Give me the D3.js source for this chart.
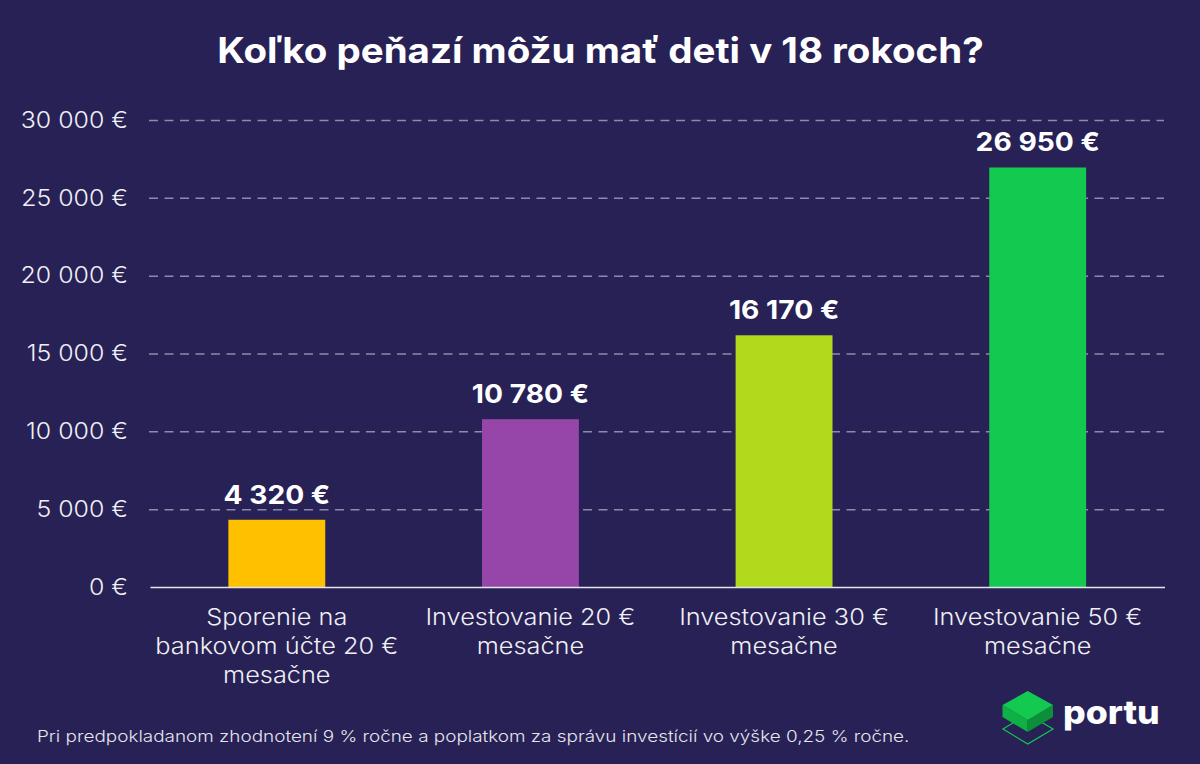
<!DOCTYPE html>
<html>
<head>
<meta charset="utf-8">
<script src="https://cdn.jsdelivr.net/npm/d3@7"></script>
<style>
html, body { margin: 0; padding: 0; background: #272156; }
svg { display: block; }
text { font-family: Inter, "Open Sans", sans-serif; }
</style>
</head>
<body>
<svg id="chart" width="1200" height="764"></svg>
<script>
var categories = [
	['Sporenie na', 'bankovom účte 20 €', 'mesačne'],
	['Investovanie 20 €', 'mesačne'],
	['Investovanie 30 €', 'mesačne'],
	['Investovanie 50 €', 'mesačne']
];
var values = [4320, 10780, 16170, 26950];
var valueLabels = ['4 320 €', '10 780 €', '16 170 €', '26 950 €'];
var barColors = ['#ffc000', '#9645a8', '#b2d91c', '#13c94f'];
var yTicks = [0, 5000, 10000, 15000, 20000, 25000, 30000];
var yTickLabels = ['0 €', '5 000 €', '10 000 €', '15 000 €', '20 000 €', '25 000 €', '30 000 €'];
var title = 'Koľko peňazí môžu mať deti v 18 rokoch?';
var footnote = 'Pri predpokladanom zhodnotení 9 % ročne a poplatkom za správu investícií vo výške 0,25 % ročne.';

var white = '#ffffff';
var svg = d3.select('#chart');

var x = d3.scaleBand().domain(d3.range(categories.length)).range([150, 1164.5]).paddingInner(0.618).paddingOuter(0.309);
var y = d3.scaleLinear().domain([0, 30000]).range([587, 120]);

// The reference font is wider than any installed one, so stretch the glyphs a bit
function widen(selection, k) {
	selection.each(function () {
		var len = this.getComputedTextLength();
		d3.select(this).attr('textLength', len * k).attr('lengthAdjust', 'spacingAndGlyphs');
	});
}

// Title
svg.append('text')
	.attr('x', 600.5).attr('y', 63)
	.attr('text-anchor', 'middle')
	.attr('font-size', 35).attr('font-weight', 700)
	.attr('fill', white)
	.text(title)
	.call(widen, 1.1);

// Dashed grid lines and y labels
var yAxis = d3.axisLeft(y)
	.tickValues(yTicks)
	.tickSize(-1015)
	.tickPadding(21)
	.tickFormat(function (d, i) { return yTickLabels[i]; });
var yGroup = svg.append('g').attr('transform', 'translate(149,0)').call(yAxis);
yGroup.select('.domain').remove();
yGroup.selectAll('.tick line')
	.attr('stroke', '#8f8aa8').attr('stroke-width', 1.5).attr('stroke-dasharray', '9 6.5');
yGroup.selectAll('.tick').filter(function (d) { return d === 0; }).select('line').remove();
yGroup.selectAll('.tick text')
	.attr('font-size', 22.5).attr('fill', '#f0eff4').attr('font-weight', 300)
	.style('font-family', 'Inter, sans-serif')
	.call(widen, 1.105);

// Bars
svg.selectAll('.bar').data(values).enter().append('rect')
	.attr('class', 'bar')
	.attr('x', function (d, i) { return x(i); })
	.attr('y', function (d) { return y(d); })
	.attr('width', x.bandwidth())
	.attr('height', function (d) { return y(0) - y(d); })
	.attr('fill', function (d, i) { return barColors[i]; });

// Value labels
svg.selectAll('.value').data(values).enter().append('text')
	.attr('class', 'value')
	.attr('x', function (d, i) { return x(i) + x.bandwidth() / 2; })
	.attr('y', function (d) { return y(d) - 16; })
	.attr('text-anchor', 'middle')
	.attr('font-size', 26).attr('font-weight', 700)
	.attr('fill', white)
	.text(function (d, i) { return valueLabels[i]; })
	.call(widen, 1.085);

// Baseline and category labels
var xAxis = d3.axisBottom(x).tickSize(0).tickFormat('');
var xGroup = svg.append('g').attr('transform', 'translate(0,587)').call(xAxis);
xGroup.select('.domain').attr('stroke', '#e6e5ec').attr('stroke-width', 1.5);

categories.forEach(function (lines, i) {
	lines.forEach(function (line, j) {
		svg.append('text')
			.attr('x', x(i) + x.bandwidth() / 2)
			.attr('y', 625 + j * 29)
			.attr('text-anchor', 'middle')
			.attr('font-size', 22.5).attr('font-weight', 300)
			.attr('fill', '#f0eff4')
			.text(line)
			.call(widen, 1.125);
	});
});

// Footnote
svg.append('text')
	.attr('x', 37).attr('y', 742)
	.attr('font-size', 16.5).attr('font-weight', 300)
	.attr('fill', '#e6e5ec')
	.text(footnote)
	.call(widen, 1.146);

// Logo
var logo = svg.append('g').attr('transform', 'translate(980,670)');
logo.append('path').attr('d', 'M23 59 L47.7 44 L73 59 L47.7 74 Z').attr('fill', 'none').attr('stroke', '#13c94f').attr('stroke-width', 1.2);
logo.append('path').attr('d', 'M22.5 35 L47.7 50 L47.7 62 L22.5 47 Z').attr('fill', '#0fb045');
logo.append('path').attr('d', 'M73 35 L47.7 50 L47.7 62 L73 47 Z').attr('fill', '#0b8f3a');
logo.append('path').attr('d', 'M47.7 21 L73 35 L47.7 50 L22.5 35 Z').attr('fill', '#13c94f');
svg.append('text')
	.attr('x', 1063).attr('y', 724)
	.attr('font-size', 33).attr('font-weight', 800)
	.attr('fill', white)
	.text('portu')
	.call(widen, 1.08);
</script>
</body>
</html>
